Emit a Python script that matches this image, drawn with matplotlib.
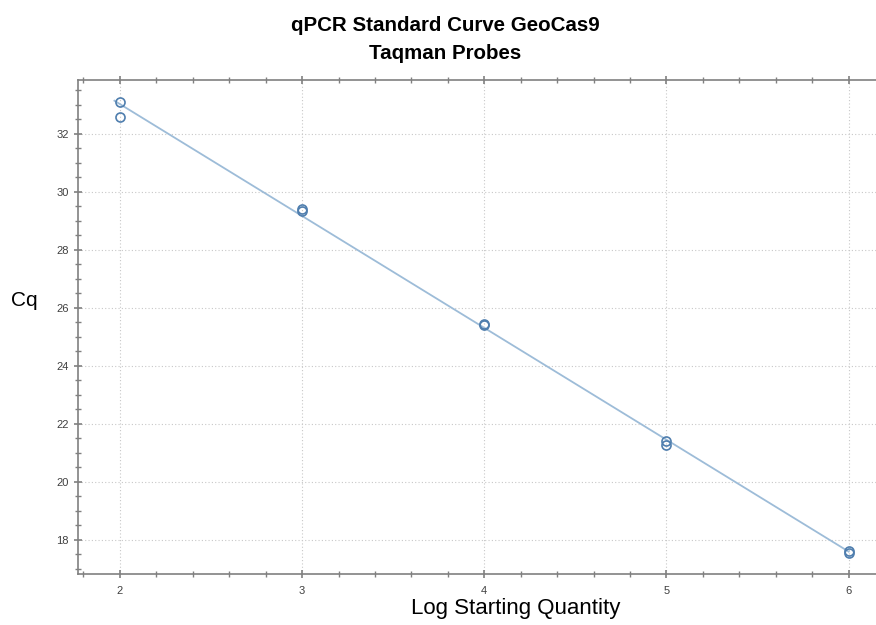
import numpy as np
import matplotlib.pyplot as plt
from matplotlib.ticker import MultipleLocator

# dados
log_qtd = [2, 2, 3, 3, 4, 4, 5, 5, 6, 6]
cq = [33.1, 32.6, 29.4, 29.35, 25.45, 25.4, 21.4, 21.27, 17.6, 17.55]

plt.rcParams['font.family'] = ['Liberation Sans', 'DejaVu Sans']

fig = plt.figure(figsize=(8.76, 6.25), dpi=100, facecolor="white")
ax = fig.add_axes([0.089, 0.082, 0.911, 0.79])

# reta de regressao
coef = np.polyfit(log_qtd, cq, 1)
xs = np.array([min(log_qtd) - 0.03, max(log_qtd)])
ax.plot(xs, np.polyval(coef, xs), color="#9dbcd8", linewidth=1.3, zorder=2)

# pontos
ax.plot(log_qtd, cq, linestyle="none", marker="o", markersize=6.5,
        markerfacecolor="none", markeredgecolor="#4f7eae", markeredgewidth=1.2, zorder=3)

ax.set_xlim(1.77, 6.15)
ax.set_ylim(16.83, 33.86)
ax.xaxis.set_major_locator(MultipleLocator(1))
ax.xaxis.set_minor_locator(MultipleLocator(0.2))
ax.yaxis.set_major_locator(MultipleLocator(2))
ax.yaxis.set_minor_locator(MultipleLocator(0.5))

ax.grid(True, which="major", linestyle=(0, (1, 2)), color="#c8c8c8", linewidth=0.8)
ax.set_axisbelow(True)

for lado in ["left", "bottom", "top"]:
    ax.spines[lado].set_color("#808080")
    ax.spines[lado].set_linewidth(1.2)
ax.spines["right"].set_visible(False)

ax.tick_params(which="both", colors="#808080", labelcolor="#404040", labelsize=8, top=True)
ax.tick_params(which="major", length=6, width=1.2, direction="inout")
ax.tick_params(which="minor", length=4, width=1, direction="inout")
ax.tick_params(axis="x", labeltop=False, pad=6)

fig.text(0.508, 0.975, "qPCR Standard Curve GeoCas9\nTaqman Probes", ha="center", va="top",
         fontsize=14.8, fontweight="bold", linespacing=1.6)
fig.text(0.012, 0.52, "Cq", ha="left", va="center", fontsize=15)
fig.text(0.589, 0.027, "Log Starting Quantity", ha="center", va="center", fontsize=16)

plt.savefig("out.png", dpi=100)
